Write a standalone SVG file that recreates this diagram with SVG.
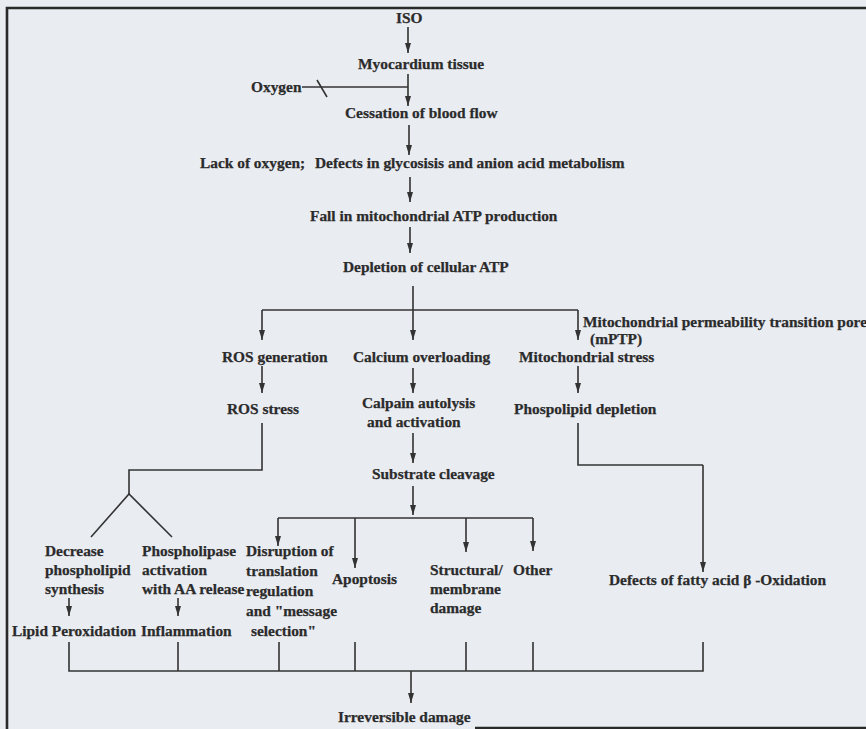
<svg xmlns="http://www.w3.org/2000/svg" width="866" height="729" viewBox="0 0 866 729">
<defs>
<style>
.t{font-family:"Liberation Serif","Times New Roman",serif;font-weight:bold;font-size:15.4px;fill:#2b2b2b;stroke:#2b2b2b;stroke-width:0.25}
.c{fill:none;stroke:#333;stroke-width:1.6}
.a{fill:none;stroke:#333;stroke-width:1.6;marker-end:url(#ah)}
.f{fill:none;stroke:#2a2a2a;stroke-width:2.6}
</style>
<marker id="ah" viewBox="0 -3 10 6" refX="10" refY="0" markerWidth="10" markerHeight="6" markerUnits="userSpaceOnUse" orient="auto">
<path d="M0,-3 L10,0 L0,3 z" fill="#333"/>
</marker>
</defs>
<rect x="0" y="0" width="866" height="729" fill="#e9ecf1"/>
<g id="frame">
<path class="f" d="M7,729 V8 H866"/>
<path class="f" d="M475,728 H866"/>
</g>
<g id="connectors">
<path class="a" d="M408,27 V53"/>
<path class="a" d="M408,74 V106"/>
<path class="c" d="M302,87 H408"/>
<path class="c" d="M317,80 L327,97"/>
<path class="a" d="M409,125 V155"/>
<path class="a" d="M410,177 V202"/>
<path class="a" d="M410,227 V253"/>
<path class="c" d="M413,286 V310"/>
<path class="c" d="M262,310 H578"/>
<path class="a" d="M262,310 V340"/>
<path class="a" d="M413,310 V340"/>
<path class="a" d="M578,310 V340"/>
<path class="a" d="M262,366 V393"/>
<path class="a" d="M413,368 V393"/>
<path class="a" d="M578,366 V393"/>
<path class="c" d="M262,423 V470 H129 V494"/>
<path class="c" d="M91,537 L129,494 L172,537"/>
<path class="a" d="M413,433 V463"/>
<path class="a" d="M413,486 V515"/>
<path class="c" d="M278,518 H533"/>
<path class="a" d="M278,518 V546"/>
<path class="a" d="M355,518 V568"/>
<path class="a" d="M466,518 V552"/>
<path class="a" d="M533,518 V551"/>
<path class="c" d="M578,423 V465 H703"/>
<path class="a" d="M703,465 V572"/>
<path class="a" d="M69,598 V616"/>
<path class="a" d="M178,598 V616"/>
<path class="c" d="M69,642 V671 H703 V642"/>
<path class="c" d="M178,642 V671"/>
<path class="c" d="M279,642 V671"/>
<path class="c" d="M355,642 V671"/>
<path class="c" d="M466,642 V671"/>
<path class="c" d="M533,642 V671"/>
<path class="a" d="M411,671 V703"/>
</g>
<g id="iso"><text class="t" x="396" y="23">ISO</text></g>
<g id="myocardium"><text class="t" x="358" y="69">Myocardium tissue</text></g>
<g id="oxygen"><text class="t" x="251" y="92">Oxygen</text></g>
<g id="cessation"><text class="t" x="345" y="118">Cessation of blood flow</text></g>
<g id="lack"><text class="t" x="200" y="168">Lack of oxygen;</text><text class="t" x="315" y="168">Defects in glycosisis and anion acid metabolism</text></g>
<g id="fall"><text class="t" x="310" y="221">Fall in mitochondrial ATP production</text></g>
<g id="depletion"><text class="t" x="343" y="272">Depletion of cellular ATP</text></g>
<g id="mptp"><text class="t" x="583" y="327">Mitochondrial permeability transition pore</text><text class="t" x="590" y="344">(mPTP)</text></g>
<g id="ros-gen"><text class="t" x="222" y="362">ROS generation</text></g>
<g id="calcium"><text class="t" x="353" y="362">Calcium overloading</text></g>
<g id="mito-stress"><text class="t" x="519" y="362">Mitochondrial stress</text></g>
<g id="ros-stress"><text class="t" x="227" y="414">ROS stress</text></g>
<g id="calpain"><text class="t" x="362" y="408">Calpain autolysis</text><text class="t" x="367" y="427">and activation</text></g>
<g id="phospolipid"><text class="t" x="514" y="414">Phospolipid depletion</text></g>
<g id="substrate"><text class="t" x="372" y="479">Substrate cleavage</text></g>
<g id="decrease"><text class="t" x="45" y="556">Decrease</text><text class="t" x="45" y="575">phospholipid</text><text class="t" x="45" y="594">synthesis</text></g>
<g id="phospholipase"><text class="t" x="142" y="556">Phospholipase</text><text class="t" x="142" y="575">activation</text><text class="t" x="142" y="594">with AA release</text></g>
<g id="disruption"><text class="t" x="246" y="556">Disruption of</text><text class="t" x="246" y="576">translation</text><text class="t" x="246" y="596">regulation</text><text class="t" x="246" y="616">and "message</text><text class="t" x="251" y="636">selection"</text></g>
<g id="apoptosis"><text class="t" x="332" y="584">Apoptosis</text></g>
<g id="structural"><text class="t" x="430" y="575">Structural/</text><text class="t" x="430" y="594">membrane</text><text class="t" x="430" y="613">damage</text></g>
<g id="other"><text class="t" x="513" y="575">Other</text></g>
<g id="beta"><text class="t" x="609" y="585">Defects of fatty acid β -Oxidation</text></g>
<g id="lipid"><text class="t" x="12" y="636">Lipid Peroxidation</text></g>
<g id="inflammation"><text class="t" x="141" y="636">Inflammation</text></g>
<g id="irreversible"><text class="t" x="338" y="722">Irreversible damage</text></g>
</svg>
